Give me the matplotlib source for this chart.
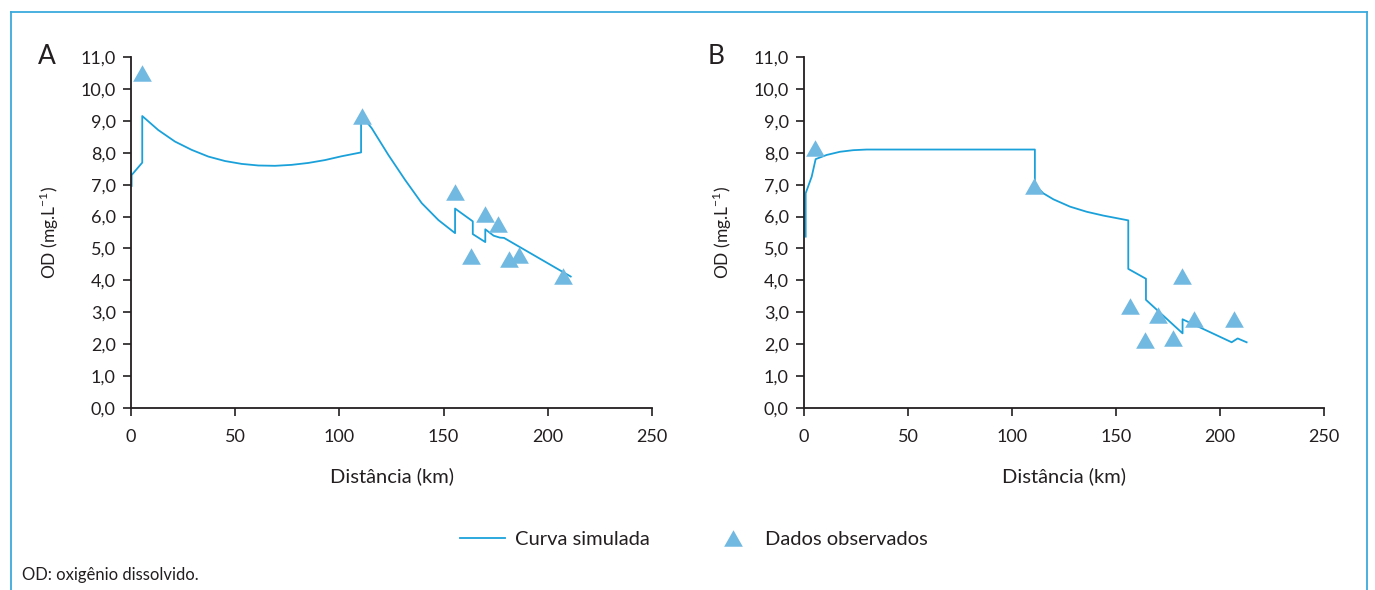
import numpy as np
import matplotlib
matplotlib.use("Agg")
import matplotlib.pyplot as plt
from matplotlib.lines import Line2D

# observed DO values (triangles)
a_obs_x = [5.5, 110.7, 155.4, 163, 170, 176.3, 181.2, 186.2, 207.5]
a_obs_y = [10.5, 9.14, 6.78, 4.76, 6.08, 5.76, 4.68, 4.79, 4.13]

b_obs_x = [5.3, 110.8, 156.6, 164.1, 170, 177.5, 181.8, 187.5, 206.7]
b_obs_y = [8.16, 6.95, 3.2, 2.12, 2.92, 2.2, 4.13, 2.79, 2.8]

# simulated curves
a_sim_x = [0.3, 0.3, 5.4, 5.4, 13.1, 21.1, 29.1, 37.1, 45.1, 53.1, 61.1, 69.1,
           77.1, 85.1, 93.1, 101.1, 110.4, 110.4, 115.5, 123.5, 131.5, 139.5,
           147.5, 155.5, 155.5, 164, 164, 170, 170, 174, 177, 179, 211]
a_sim_y = [6.96, 7.3, 7.69, 9.15, 8.71, 8.35, 8.09, 7.88, 7.74, 7.65, 7.6,
           7.59, 7.62, 7.68, 7.77, 7.89, 8.01, 9.18, 8.77, 7.93, 7.15, 6.42,
           5.89, 5.48, 6.25, 5.85, 5.45, 5.2, 5.6, 5.4, 5.34, 5.33, 4.12]

b_sim_x = [0.8, 0.8, 3.7, 5.6, 10.9, 17.3, 23.7, 30.1, 111, 111, 115, 119.9,
           127.9, 135.9, 143.9, 151.9, 155.9, 155.9, 164.4, 164.4, 182, 182,
           205.6, 208.5, 212.8]
b_sim_y = [5.37, 6.73, 7.25, 7.8, 7.93, 8.03, 8.08, 8.1, 8.1, 7.0, 6.73, 6.54,
           6.31, 6.15, 6.03, 5.93, 5.88, 4.36, 4.05, 3.39, 2.34, 2.78, 2.06,
           2.18, 2.06]

x_ticks = [0, 50, 100, 150, 200, 250]
y_ticks = np.arange(0, 12)
y_labels = [f"{v:.1f}".replace(".", ",") for v in y_ticks]

line_color = "#1ba1da"
tri_color = "#72b9e1"
text_color = "#231f20"
frame_color = "#3aaadc"
tri = [(-1, -0.88), (1, -0.88), (0, 0.88)]

plt.rcParams["font.family"] = ["Lato", "DejaVu Sans"]
plt.rcParams["text.color"] = text_color
plt.rcParams["axes.labelcolor"] = text_color
plt.rcParams["xtick.color"] = text_color
plt.rcParams["ytick.color"] = text_color

fig = plt.figure(figsize=(13.75, 5.9), dpi=100)
W, H = 1375, 590

def px_axes(x0, x1, y0, y1):
    return fig.add_axes([x0 / W, 1 - y1 / H, (x1 - x0) / W, (y1 - y0) / H])

ax_a = px_axes(131, 652, 57, 408)
ax_b = px_axes(804, 1324, 57, 408)

for ax, sx, sy, ox, oy in [
    (ax_a, a_sim_x, a_sim_y, a_obs_x, a_obs_y),
    (ax_b, b_sim_x, b_sim_y, b_obs_x, b_obs_y),
]:
    ax.plot(sx, sy, color=line_color, lw=1.3, zorder=2)
    ax.plot(ox, oy, ls="none", marker=tri, markersize=13.5,
            color=tri_color, markeredgewidth=0, zorder=3)
    ax.set_xlim(0, 250)
    ax.set_ylim(0, 11)
    ax.set_xticks(x_ticks)
    ax.set_yticks(y_ticks)
    ax.set_yticklabels(y_labels)
    ax.tick_params(direction="out", length=6, width=1.2, labelsize=13)
    ax.tick_params(axis="x", pad=9)
    ax.tick_params(axis="y", pad=5)
    for s in ["top", "right"]:
        ax.spines[s].set_visible(False)
    for s in ["left", "bottom"]:
        ax.spines[s].set_linewidth(1.3)
        ax.spines[s].set_color(text_color)
    ax.set_xlabel("Distância (km)", fontsize=14.5, labelpad=16)
    ax.set_ylabel("OD (mg.L$^{\\mathregular{-1}}$)", fontsize=12.5, labelpad=14)
    ax.patch.set_visible(False)

fig.text(38 / W, 1 - 56 / H, "A", fontsize=19, va="center", ha="left")
fig.text(708 / W, 1 - 56 / H, "B", fontsize=19, va="center", ha="left")

handles = [
    Line2D([], [], color=line_color, lw=1.3),
    Line2D([], [], ls="none", marker=tri, markersize=13.5, color=tri_color,
           markeredgewidth=0),
]
fig.legend(handles, ["Curva simulada", "Dados observados"], loc="center",
           bbox_to_anchor=(694 / W, 1 - 539 / H), ncol=2, frameon=False,
           fontsize=14.5, handlelength=2.24, columnspacing=3.0, handletextpad=0.5)

fig.text(22 / W, 1 - 575 / H, "OD: oxigênio dissolvido.", fontsize=12,
         va="center", ha="left")

# outer frame (open at the bottom)
fx0, fx1, fy0 = 11 / W, 1367 / W, 1 - 12 / H
for xs, ys in [([fx0, fx0], [0, fy0]), ([fx0, fx1], [fy0, fy0]), ([fx1, fx1], [fy0, 0])]:
    fig.add_artist(Line2D(xs, ys, color=frame_color, lw=1.3,
                          transform=fig.transFigure))

fig.savefig("out.png", dpi=100)
